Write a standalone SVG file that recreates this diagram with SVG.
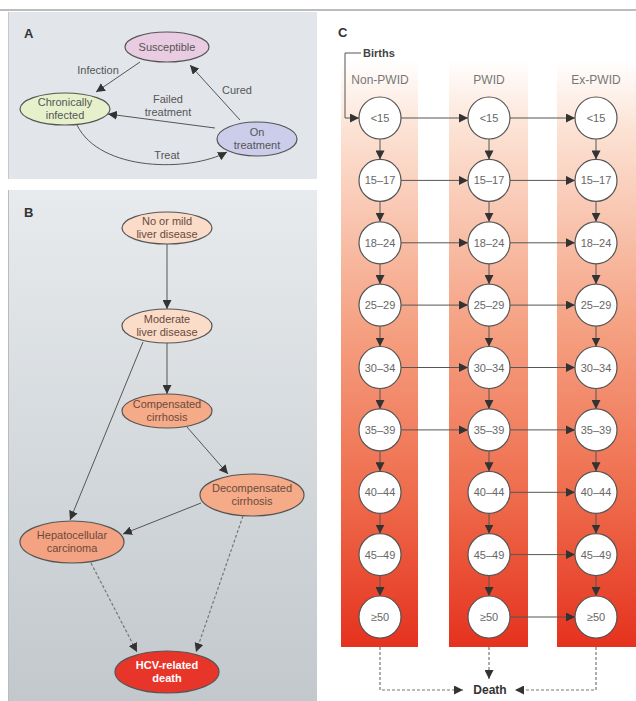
<svg xmlns="http://www.w3.org/2000/svg" width="636" height="701" viewBox="0 0 636 701">
<defs>
<linearGradient id="gB" x1="0" y1="190" x2="0" y2="701" gradientUnits="userSpaceOnUse">
<stop offset="0" stop-color="#e7ebee"/>
<stop offset="1" stop-color="#c3c8cc"/>
</linearGradient>
<linearGradient id="gBand" x1="0" y1="60" x2="0" y2="647" gradientUnits="userSpaceOnUse">
<stop offset="0" stop-color="#ffffff"/>
<stop offset="0.12" stop-color="#fce2d4"/>
<stop offset="0.45" stop-color="#f5a283"/>
<stop offset="0.75" stop-color="#ee6a4a"/>
<stop offset="1" stop-color="#e5321f"/>
</linearGradient>
<marker id="ah" viewBox="0 0 10 10" refX="10" refY="5" markerWidth="9" markerHeight="9" markerUnits="userSpaceOnUse" orient="auto">
<path d="M0,0 L10,5 L0,10 z" fill="#333"/>
</marker>
</defs>
<style>
.ln{fill:none;stroke:#555;stroke-width:1}
.dl{fill:none;stroke:#777;stroke-width:1.2;stroke-dasharray:3,2}
.lbl{font-family:"Liberation Sans",Arial,sans-serif;font-size:11px;fill:#555}
.nA{stroke:#555;stroke-width:1.2}
.tA{font-family:"Liberation Sans",Arial,sans-serif;font-size:11px;fill:#555;text-anchor:middle}
.tB{font-family:"Liberation Sans",Arial,sans-serif;font-size:11px;fill:#6a4a3c;text-anchor:middle}
.tD{font-family:"Liberation Sans",Arial,sans-serif;font-size:11px;fill:#fff;font-weight:bold;text-anchor:middle}
.circ{fill:#fff;stroke:#555;stroke-width:1.2}
.tC{font-family:"Liberation Sans",Arial,sans-serif;font-size:11px;fill:#666;text-anchor:middle}
.hd{font-family:"Liberation Sans",Arial,sans-serif;font-size:12px;fill:#777;text-anchor:middle}
.pl{font-family:"Liberation Sans",Arial,sans-serif;font-size:13px;font-weight:bold;fill:#333}
.band{fill:url(#gBand)}
</style>

<line x1="0" y1="10" x2="636" y2="10" stroke="#bcbcbc" stroke-width="2"/>

<!-- Panel backgrounds -->
<rect x="8" y="12" width="309" height="167" fill="#e2e6ea"/>
<rect x="8" y="190" width="309" height="511" fill="url(#gB)"/>
<line x1="8.5" y1="12" x2="8.5" y2="179" stroke="#c4c8cc"/>
<line x1="8.5" y1="190" x2="8.5" y2="701" stroke="#b8bcc0"/>
<text class="pl" x="24" y="38">A</text>
<text class="pl" x="24" y="217">B</text>
<text class="pl" x="338" y="37">C</text>

<!-- Panel C bands -->
<rect class="band" x="341" y="60" width="77" height="587"/>
<rect class="band" x="449" y="60" width="79" height="587"/>
<rect class="band" x="557" y="60" width="79" height="587"/>

<g id="connectors">
<!-- Panel A -->
<line class="ln" x1="140" y1="62" x2="96" y2="92" marker-end="url(#ah)"/>
<line class="ln" x1="240" y1="120" x2="190" y2="65" marker-end="url(#ah)"/>
<line class="ln" x1="215" y1="128" x2="108" y2="114" marker-end="url(#ah)"/>
<path class="ln" d="M77,125 C100,172 190,172 227,152" marker-end="url(#ah)"/>
<!-- Panel B -->
<line class="ln" x1="167" y1="244" x2="167" y2="309" marker-end="url(#ah)"/>
<line class="ln" x1="167" y1="343" x2="167" y2="394" marker-end="url(#ah)"/>
<line class="ln" x1="143" y1="342" x2="70" y2="520" marker-end="url(#ah)"/>
<line class="ln" x1="187" y1="427" x2="228" y2="474" marker-end="url(#ah)"/>
<line class="ln" x1="201" y1="503" x2="123" y2="534" marker-end="url(#ah)"/>
<line class="dl" x1="91" y1="563" x2="137" y2="652" marker-end="url(#ah)"/>
<line class="dl" x1="243" y1="516" x2="196" y2="652" marker-end="url(#ah)"/>
<!-- Panel C births -->
<path class="ln" d="M361,53 H345 V118 H359" marker-end="url(#ah)"/>
<!-- horizontal Non-PWID -> PWID -->
<line class="ln" x1="401" y1="118" x2="468" y2="118" marker-end="url(#ah)"/>
<line class="ln" x1="401" y1="180.4" x2="468" y2="180.4" marker-end="url(#ah)"/>
<line class="ln" x1="401" y1="242.8" x2="468" y2="242.8" marker-end="url(#ah)"/>
<line class="ln" x1="401" y1="305.1" x2="468" y2="305.1" marker-end="url(#ah)"/>
<line class="ln" x1="401" y1="367.5" x2="468" y2="367.5" marker-end="url(#ah)"/>
<line class="ln" x1="401" y1="429.9" x2="468" y2="429.9" marker-end="url(#ah)"/>
<!-- horizontal PWID -> Ex-PWID -->
<line class="ln" x1="510" y1="118" x2="575" y2="118" marker-end="url(#ah)"/>
<line class="ln" x1="510" y1="180.4" x2="575" y2="180.4" marker-end="url(#ah)"/>
<line class="ln" x1="510" y1="242.8" x2="575" y2="242.8" marker-end="url(#ah)"/>
<line class="ln" x1="510" y1="305.1" x2="575" y2="305.1" marker-end="url(#ah)"/>
<line class="ln" x1="510" y1="367.5" x2="575" y2="367.5" marker-end="url(#ah)"/>
<line class="ln" x1="510" y1="429.9" x2="575" y2="429.9" marker-end="url(#ah)"/>
<line class="ln" x1="510" y1="492.3" x2="575" y2="492.3" marker-end="url(#ah)"/>
<line class="ln" x1="510" y1="554.6" x2="575" y2="554.6" marker-end="url(#ah)"/>
<line class="ln" x1="510" y1="617" x2="575" y2="617" marker-end="url(#ah)"/>
<!-- vertical Non-PWID -->
<line class="ln" x1="380" y1="139" x2="380" y2="159.4" marker-end="url(#ah)"/>
<line class="ln" x1="380" y1="201.4" x2="380" y2="221.8" marker-end="url(#ah)"/>
<line class="ln" x1="380" y1="263.8" x2="380" y2="284.1" marker-end="url(#ah)"/>
<line class="ln" x1="380" y1="326.1" x2="380" y2="346.5" marker-end="url(#ah)"/>
<line class="ln" x1="380" y1="388.5" x2="380" y2="408.9" marker-end="url(#ah)"/>
<line class="ln" x1="380" y1="450.9" x2="380" y2="471.3" marker-end="url(#ah)"/>
<line class="ln" x1="380" y1="513.3" x2="380" y2="533.6" marker-end="url(#ah)"/>
<line class="ln" x1="380" y1="575.6" x2="380" y2="596" marker-end="url(#ah)"/>
<!-- vertical PWID -->
<line class="ln" x1="489" y1="139" x2="489" y2="159.4" marker-end="url(#ah)"/>
<line class="ln" x1="489" y1="201.4" x2="489" y2="221.8" marker-end="url(#ah)"/>
<line class="ln" x1="489" y1="263.8" x2="489" y2="284.1" marker-end="url(#ah)"/>
<line class="ln" x1="489" y1="326.1" x2="489" y2="346.5" marker-end="url(#ah)"/>
<line class="ln" x1="489" y1="388.5" x2="489" y2="408.9" marker-end="url(#ah)"/>
<line class="ln" x1="489" y1="450.9" x2="489" y2="471.3" marker-end="url(#ah)"/>
<line class="ln" x1="489" y1="513.3" x2="489" y2="533.6" marker-end="url(#ah)"/>
<line class="ln" x1="489" y1="575.6" x2="489" y2="596" marker-end="url(#ah)"/>
<!-- vertical Ex-PWID -->
<line class="ln" x1="596" y1="139" x2="596" y2="159.4" marker-end="url(#ah)"/>
<line class="ln" x1="596" y1="201.4" x2="596" y2="221.8" marker-end="url(#ah)"/>
<line class="ln" x1="596" y1="263.8" x2="596" y2="284.1" marker-end="url(#ah)"/>
<line class="ln" x1="596" y1="326.1" x2="596" y2="346.5" marker-end="url(#ah)"/>
<line class="ln" x1="596" y1="388.5" x2="596" y2="408.9" marker-end="url(#ah)"/>
<line class="ln" x1="596" y1="450.9" x2="596" y2="471.3" marker-end="url(#ah)"/>
<line class="ln" x1="596" y1="513.3" x2="596" y2="533.6" marker-end="url(#ah)"/>
<line class="ln" x1="596" y1="575.6" x2="596" y2="596" marker-end="url(#ah)"/>
<!-- death -->
<path class="dl" d="M380,647 V690 H463" marker-end="url(#ah)"/>
<path class="dl" d="M489,647 V679" marker-end="url(#ah)"/>
<path class="dl" d="M596,647 V690 H515" marker-end="url(#ah)"/>
</g>

<!-- Panel A labels -->
<text class="lbl" x="98" y="74" text-anchor="middle">Infection</text>
<text class="lbl" x="237" y="94" text-anchor="middle">Cured</text>
<text class="lbl" x="168" y="103" text-anchor="middle">Failed</text>
<text class="lbl" x="168" y="116" text-anchor="middle">treatment</text>
<text class="lbl" x="167" y="159" text-anchor="middle">Treat</text>

<!-- Panel A nodes -->
<g id="susceptible"><ellipse class="nA" cx="167" cy="47" rx="42" ry="15" fill="#e9cbe2"/><text class="tA" x="167" y="51">Susceptible</text></g>
<g id="chronic"><ellipse class="nA" cx="65" cy="109" rx="45" ry="16" fill="#e6f0cb"/><text class="tA" x="65" y="106">Chronically</text><text class="tA" x="65" y="119">infected</text></g>
<g id="ontreat"><ellipse class="nA" cx="257" cy="139" rx="40" ry="17" fill="#cbcdea"/><text class="tA" x="257" y="136">On</text><text class="tA" x="257" y="149">treatment</text></g>

<!-- Panel B nodes -->
<g id="nomild"><ellipse class="nA" cx="167" cy="228" rx="45" ry="16" fill="#fadcc9"/><text class="tB" x="167" y="225">No or mild</text><text class="tB" x="167" y="238">liver disease</text></g>
<g id="moderate"><ellipse class="nA" cx="167" cy="326" rx="45" ry="17" fill="#fadcc9"/><text class="tB" x="167" y="323">Moderate</text><text class="tB" x="167" y="336">liver disease</text></g>
<g id="compensated"><ellipse class="nA" cx="167" cy="411" rx="45" ry="17" fill="#f5aa88"/><text class="tB" x="167" y="408">Compensated</text><text class="tB" x="167" y="421">cirrhosis</text></g>
<g id="decompensated"><ellipse class="nA" cx="252" cy="495" rx="52" ry="21" fill="#f5aa88"/><text class="tB" x="252" y="492">Decompensated</text><text class="tB" x="252" y="505">cirrhosis</text></g>
<g id="hcc"><ellipse class="nA" cx="72" cy="542" rx="52" ry="21" fill="#f4a382"/><text class="tB" x="72" y="539">Hepatocellular</text><text class="tB" x="72" y="552">carcinoma</text></g>
<g id="hcvdeath"><ellipse class="nA" cx="167" cy="672" rx="52" ry="21" fill="#e8352a"/><text class="tD" x="167" y="669">HCV-related</text><text class="tD" x="167" y="682">death</text></g>

<!-- Panel C labels -->
<text x="363" y="57" font-family="Liberation Sans, Arial, sans-serif" font-size="11" font-weight="bold" fill="#444">Births</text>
<text class="hd" x="380" y="84">Non-PWID</text>
<text class="hd" x="489" y="84">PWID</text>
<text class="hd" x="596" y="84">Ex-PWID</text>

<!-- Panel C nodes -->
<g id="n1"><circle class="circ" cx="380" cy="118" r="21"/><text class="tC" x="380" y="122">&lt;15</text></g>
<g id="n2"><circle class="circ" cx="380" cy="180.4" r="21"/><text class="tC" x="380" y="184.4">15–17</text></g>
<g id="n3"><circle class="circ" cx="380" cy="242.8" r="21"/><text class="tC" x="380" y="246.8">18–24</text></g>
<g id="n4"><circle class="circ" cx="380" cy="305.1" r="21"/><text class="tC" x="380" y="309.1">25–29</text></g>
<g id="n5"><circle class="circ" cx="380" cy="367.5" r="21"/><text class="tC" x="380" y="371.5">30–34</text></g>
<g id="n6"><circle class="circ" cx="380" cy="429.9" r="21"/><text class="tC" x="380" y="433.9">35–39</text></g>
<g id="n7"><circle class="circ" cx="380" cy="492.3" r="21"/><text class="tC" x="380" y="496.3">40–44</text></g>
<g id="n8"><circle class="circ" cx="380" cy="554.6" r="21"/><text class="tC" x="380" y="558.6">45–49</text></g>
<g id="n9"><circle class="circ" cx="380" cy="617" r="21"/><text class="tC" x="380" y="621">≥50</text></g>

<g id="p1"><circle class="circ" cx="489" cy="118" r="21"/><text class="tC" x="489" y="122">&lt;15</text></g>
<g id="p2"><circle class="circ" cx="489" cy="180.4" r="21"/><text class="tC" x="489" y="184.4">15–17</text></g>
<g id="p3"><circle class="circ" cx="489" cy="242.8" r="21"/><text class="tC" x="489" y="246.8">18–24</text></g>
<g id="p4"><circle class="circ" cx="489" cy="305.1" r="21"/><text class="tC" x="489" y="309.1">25–29</text></g>
<g id="p5"><circle class="circ" cx="489" cy="367.5" r="21"/><text class="tC" x="489" y="371.5">30–34</text></g>
<g id="p6"><circle class="circ" cx="489" cy="429.9" r="21"/><text class="tC" x="489" y="433.9">35–39</text></g>
<g id="p7"><circle class="circ" cx="489" cy="492.3" r="21"/><text class="tC" x="489" y="496.3">40–44</text></g>
<g id="p8"><circle class="circ" cx="489" cy="554.6" r="21"/><text class="tC" x="489" y="558.6">45–49</text></g>
<g id="p9"><circle class="circ" cx="489" cy="617" r="21"/><text class="tC" x="489" y="621">≥50</text></g>

<g id="e1"><circle class="circ" cx="596" cy="118" r="21"/><text class="tC" x="596" y="122">&lt;15</text></g>
<g id="e2"><circle class="circ" cx="596" cy="180.4" r="21"/><text class="tC" x="596" y="184.4">15–17</text></g>
<g id="e3"><circle class="circ" cx="596" cy="242.8" r="21"/><text class="tC" x="596" y="246.8">18–24</text></g>
<g id="e4"><circle class="circ" cx="596" cy="305.1" r="21"/><text class="tC" x="596" y="309.1">25–29</text></g>
<g id="e5"><circle class="circ" cx="596" cy="367.5" r="21"/><text class="tC" x="596" y="371.5">30–34</text></g>
<g id="e6"><circle class="circ" cx="596" cy="429.9" r="21"/><text class="tC" x="596" y="433.9">35–39</text></g>
<g id="e7"><circle class="circ" cx="596" cy="492.3" r="21"/><text class="tC" x="596" y="496.3">40–44</text></g>
<g id="e8"><circle class="circ" cx="596" cy="554.6" r="21"/><text class="tC" x="596" y="558.6">45–49</text></g>
<g id="e9"><circle class="circ" cx="596" cy="617" r="21"/><text class="tC" x="596" y="621">≥50</text></g>

<g id="death"><text x="490" y="694" font-family="Liberation Sans, Arial, sans-serif" font-size="12" font-weight="bold" fill="#333" text-anchor="middle">Death</text></g>
</svg>
